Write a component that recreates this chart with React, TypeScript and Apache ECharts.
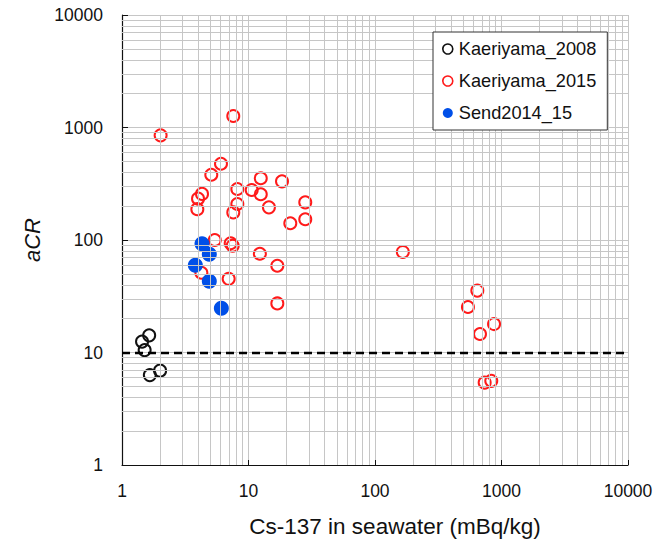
import { useEffect, useRef } from 'react';
import * as echarts from 'echarts';

// Cs-137 in seawater (mBq/kg) vs aCR
const kaeriyama2008: [number, number][] = [
  [1.64, 14.2], [1.44, 12.5], [1.51, 10.5], [2.0, 6.9], [1.66, 6.3],
];

const kaeriyama2015: [number, number][] = [
  [7.58, 1265], [2.02, 852], [6.06, 476], [5.08, 380], [12.5, 354],
  [18.4, 332], [8.16, 284], [10.6, 278], [4.29, 257], [12.5, 255],
  [3.99, 233], [28.1, 216], [8.16, 209], [14.5, 195], [3.94, 188],
  [7.58, 176], [28.1, 153], [21.4, 141], [5.41, 100], [7.23, 93.5],
  [7.5, 89], [12.3, 75.5], [16.9, 59], [4.24, 51.2], [6.97, 45.2],
  [16.9, 27.3], [166, 78.3], [644, 35.5], [543, 25.4], [873, 17.9],
  [676, 14.6], [830, 5.6], [736, 5.4],
];

const send2014_15: [number, number][] = [
  [4.29, 92.7], [4.9, 74.6], [3.8, 59.5], [4.9, 42.9], [6.1, 24.7],
];

const seriesNames = ['Kaeriyama_2008', 'Kaeriyama_2015', 'Send2014_15'];
const xDecades = [1, 10, 100, 1000, 10000];
const yDecades = [1, 10, 100, 1000, 10000];
const referenceLevel = 10;

const FONT = '"Liberation Sans", Arial, Helvetica, sans-serif';
const GRID_COLOR = '#c6c6c6';
const INK = '#111';
const RED = '#ff1a1a';
const BLUE = '#004fe8';

// 2..9 × each decade, for the fine log grid
function minorGrid(decades: number[]): number[] {
  const out: number[] = [];
  for (let i = 0; i < decades.length - 1; i++) {
    for (let m = 2; m <= 9; m++) out.push(decades[i] * m);
  }
  return out;
}

const tickLabel = (v: number) => String(Math.round(v));

export default function App() {
  const ref = useRef<HTMLDivElement>(null);

  useEffect(() => {
    if (!ref.current) return;
    const chart = echarts.init(ref.current, undefined, { renderer: 'svg' });

    const openCircle = (color: string) => ({
      color: 'rgba(255,255,255,0)',
      borderColor: color,
      borderWidth: 2,
      opacity: 1,
    });

    chart.setOption({
      animation: false,
      textStyle: { fontFamily: FONT },
      grid: {
        left: 122,
        top: 15,
        width: 506,
        height: 450,
        containLabel: false,
        outerBoundsMode: 'none',
      },
      xAxis: {
        type: 'log',
        logBase: 10,
        min: xDecades[0],
        max: xDecades[xDecades.length - 1],
        name: 'Cs-137 in seawater (mBq/kg)',
        nameLocation: 'middle',
        nameGap: 50,
        nameTextStyle: { fontSize: 22.5, color: INK, fontFamily: FONT, padding: [0, 0, 0, 40] },
        axisLine: { show: true, onZero: false, lineStyle: { color: INK, width: 1.2 } },
        axisTick: { show: true, inside: true, length: 5, lineStyle: { color: INK } },
        axisLabel: { fontSize: 17.5, color: INK, margin: 17, formatter: tickLabel },
        splitLine: { show: true, lineStyle: { color: GRID_COLOR, width: 1 } },
      },
      yAxis: {
        type: 'log',
        logBase: 10,
        min: yDecades[0],
        max: yDecades[yDecades.length - 1],
        name: 'aCR',
        nameLocation: 'middle',
        nameGap: 69,
        nameTextStyle: { fontSize: 22, color: INK, fontStyle: 'italic', fontFamily: FONT },
        axisLine: { show: true, onZero: false, lineStyle: { color: INK, width: 1.2 } },
        axisTick: { show: true, inside: true, length: 6, lineStyle: { color: INK } },
        axisLabel: { fontSize: 17.5, color: INK, margin: 19, formatter: tickLabel },
        splitLine: { show: true, lineStyle: { color: GRID_COLOR, width: 1 } },
      },
      legend: {
        orient: 'vertical',
        left: 433,
        top: 32,
        z: 20,
        padding: [7, 11, 7, 9],
        itemGap: 12,
        itemWidth: 10,
        itemHeight: 10,
        borderColor: '#333',
        borderWidth: 1,
        borderRadius: 0,
        backgroundColor: '#fff',
        textStyle: { fontSize: 18.2, color: INK, lineHeight: 20, fontFamily: FONT, padding: [0, 0, 0, 1] },
        data: [
          { name: seriesNames[0], icon: 'circle', itemStyle: { color: '#fff', borderColor: INK, borderWidth: 1.6, opacity: 1 } },
          { name: seriesNames[1], icon: 'circle', itemStyle: { color: '#fff', borderColor: RED, borderWidth: 1.6, opacity: 1 } },
          { name: seriesNames[2], icon: 'circle', itemStyle: { color: BLUE, borderWidth: 0, opacity: 1 } },
        ],
      },
      series: [
        {
          // fine log grid
          type: 'scatter',
          name: 'grid',
          data: [],
          silent: true,
          z: 0,
          markLine: {
            silent: true,
            symbol: ['none', 'none'],
            label: { show: false },
            emphasis: { disabled: true },
            lineStyle: { color: GRID_COLOR, width: 1, type: 'solid', opacity: 1 },
            data: [
              ...minorGrid(xDecades).map((v) => ({ xAxis: v })),
              ...minorGrid(yDecades).map((v) => ({ yAxis: v })),
            ],
          },
        },
        {
          type: 'scatter',
          name: 'reference',
          data: [],
          silent: true,
          z: 1,
          markLine: {
            silent: true,
            symbol: ['none', 'none'],
            label: { show: false },
            emphasis: { disabled: true },
            lineStyle: { color: '#000', width: 2.3, type: [8, 5], opacity: 1 },
            data: [{ yAxis: referenceLevel }],
          },
        },
        {
          type: 'scatter',
          name: seriesNames[0],
          data: kaeriyama2008,
          symbol: 'circle',
          symbolSize: 12,
          z: 3,
          itemStyle: openCircle(INK),
          emphasis: { disabled: true },
        },
        {
          type: 'scatter',
          name: seriesNames[1],
          data: kaeriyama2015,
          symbol: 'circle',
          symbolSize: 12,
          z: 3,
          itemStyle: openCircle(RED),
          emphasis: { disabled: true },
        },
        {
          type: 'scatter',
          name: seriesNames[2],
          data: send2014_15,
          symbol: 'circle',
          symbolSize: 15,
          z: 4,
          itemStyle: { color: BLUE, opacity: 1 },
          emphasis: { disabled: true },
        },
      ],
    });

    return () => chart.dispose();
  }, []);

  return (
    <div
      ref={ref}
      style={{ position: 'fixed', left: 0, top: 0, width: 653, height: 545, background: '#fff' }}
    />
  );
}
